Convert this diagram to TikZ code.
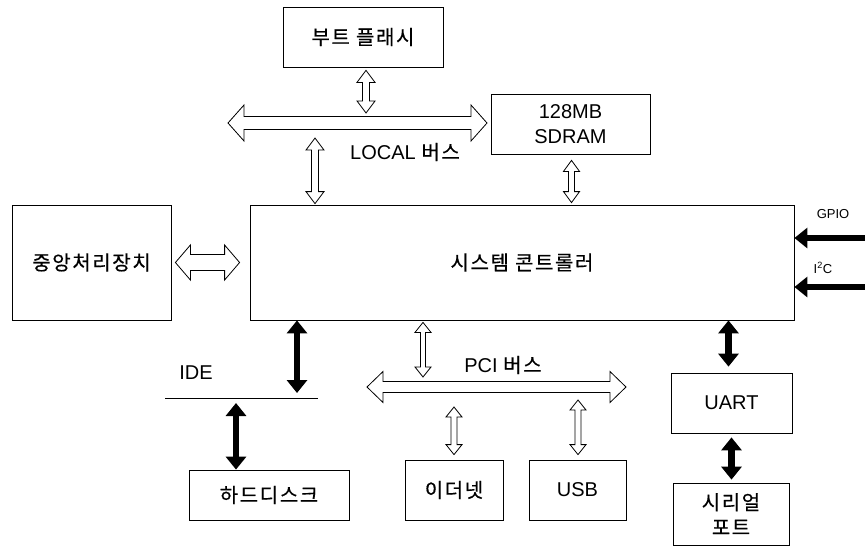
\documentclass[tikz,border=0pt]{standalone}
\usepackage{fontspec}
\setmainfont{Liberation Sans}
\newfontfamily\kr{Noto Sans CJK KR}[LetterSpace=8,FakeBold=0.5]
\usetikzlibrary{arrows.meta,calc}
\begin{document}
\begin{tikzpicture}[x=1pt,y=-1pt,
  box/.style={draw, line width=0.8pt, inner sep=0pt, align=center},
  kor/.style={font=\kr\fontsize{20}{25}\selectfont},
  lat/.style={font=\fontsize{20}{25}\selectfont},
  blackboth/.style={line width=6.5pt, {Triangle[length=13pt,width=20pt]}-{Triangle[length=13pt,width=20pt]}},
  blackin/.style={line width=6.5pt, -{Triangle[length=13pt,width=20pt]}},
  vhollow/.style n args={3}{line width=0.8pt, line join=miter, to path={let \p1=(\tikztostart), \p2=(\tikztotarget) in
     (\x1,\y1) -- ({\x1+#1},{\y1-#3}) -- ({\x1+#2},{\y1-#3}) -- ({\x1+#2},{\y2+#3}) -- ({\x1+#1},{\y2+#3}) -- (\x1,\y2)
     -- ({\x1-#1},{\y2+#3}) -- ({\x1-#2},{\y2+#3}) -- ({\x1-#2},{\y1-#3}) -- ({\x1-#1},{\y1-#3}) -- cycle}},
  hhollow/.style n args={3}{line width=0.8pt, line join=miter, to path={let \p1=(\tikztostart), \p2=(\tikztotarget) in
     (\x1,\y1) -- ({\x1+#3},{\y1+#1}) -- ({\x1+#3},{\y1+#2}) -- ({\x2-#3},{\y1+#2}) -- ({\x2-#3},{\y1+#1}) -- (\x2,\y1)
     -- ({\x2-#3},{\y1-#1}) -- ({\x2-#3},{\y1-#2}) -- ({\x1+#3},{\y1-#2}) -- ({\x1+#3},{\y1-#1}) -- cycle}},
]
\useasboundingbox (0,0) rectangle (865,547);

% boxes
\node[box, minimum width=160pt, minimum height=60pt, kor] (boot) at (363,37) {부트 플래시};
\node[box, minimum width=159pt, minimum height=60pt, lat] (sdram) at (570.5,124) {128MB\\SDRAM};
\node[box, minimum width=544pt, minimum height=115pt, kor] (ctrl) at (522,262.5) {시스템 콘트롤러};
\node[box, minimum width=159pt, minimum height=115pt, kor] (cpu) at (91.5,262.5) {중앙처리장치};
\node[box, minimum width=160pt, minimum height=50pt, kor] (hdd) at (269,495) {하드디스크};
\node[box, minimum width=98pt, minimum height=60pt, kor] (eth) at (454,490) {이더넷};
\node[box, minimum width=97pt, minimum height=60pt, lat] (usb) at (577.5,490) {USB};
\node[box, minimum width=121pt, minimum height=60pt, lat] (uart) at (731.5,403) {UART};
\node[box, minimum width=116pt, minimum height=62pt, kor] (serial) at (731,514) {시리얼\\포트};

% labels
\node[lat] (locallbl) at (405,152) {LOCAL {\kr\fontsize{20}{25}\selectfont 버스}};
\node[lat] (pcilbl) at (503,365) {PCI {\kr\fontsize{20}{25}\selectfont 버스}};
\node[lat] (idelbl) at (196,373) {IDE};
\node[font=\fontsize{13}{15}\selectfont] (gpiolbl) at (833,214) {GPIO};
\node[font=\fontsize{13}{15}\selectfont] (i2clbl) at (823,268) {I\textsuperscript{2}C};

% bus coordinates
\coordinate (lbL) at (228,123); \coordinate (lbR) at (487,123);
\coordinate (lbA) at (315,123);
\coordinate (pbL) at (367,387); \coordinate (pbR) at (626,387);
\coordinate (pbA) at (423,387); \coordinate (pbB) at (454,387); \coordinate (pbC) at (578,387);
\coordinate (ideL) at (165,398); \coordinate (ideR) at (318,398);
\coordinate (ideA) at (297,398); \coordinate (ideB) at (236,398);
\coordinate (gpioR) at (865,238); \coordinate (i2cR) at (865,287);

% LOCAL bus and its connectors
\draw[hhollow={18pt}{6.5pt}{16pt}] (lbL) to (lbR);
\draw[vhollow={9pt}{3.5pt}{12pt}] ($(boot.south)+(3pt,-3pt)$) to ($(boot.south |- lbL)+(3pt,10pt)$);
\draw[vhollow={9pt}{3.5pt}{12pt}] ($(lbA)+(0pt,-15pt)$) to ($(lbA |- ctrl.north)+(0pt,1pt)$);
\draw[vhollow={8pt}{3pt}{11pt}] ($(sdram.south)+(1pt,-6pt)$) to ($(sdram.south |- ctrl.north)+(1pt,2pt)$);

% CPU - controller
\draw[hhollow={17.5pt}{8pt}{15pt}] ($(cpu.east)+(4pt,0pt)$) to ($(ctrl.west)+(-10pt,0pt)$);

% PCI bus and its connectors
\draw[hhollow={15.5pt}{5.5pt}{16pt}] (pbL) to (pbR);
\draw[vhollow={8pt}{2.5pt}{10pt}] ($(pbA |- ctrl.south)+(0pt,-2pt)$) to ($(pbA)+(0pt,10pt)$);
\draw[vhollow={8pt}{3pt}{10pt}] ($(pbB)+(0pt,-20pt)$) to ($(eth.north)+(0pt,5pt)$);
\draw[vhollow={8pt}{3pt}{10pt}] ($(pbC)+(0pt,-13pt)$) to ($(pbC |- usb.north)+(0pt,5pt)$);

% IDE
\draw[line width=0.8pt] (ideL) -- (ideR);
\draw[blackboth] (ideA |- ctrl.south) -- ($(ideA)+(0pt,5pt)$);
\draw[blackboth] ($(ideB)+(0pt,-5pt)$) -- (ideB |- hdd.north);

% UART
\draw[blackboth] ($(uart.north |- ctrl.south)+(-3pt,0pt)$) -- ($(uart.north)+(-3pt,6pt)$);
\draw[blackboth] ($(uart.south)+(0pt,-4pt)$) -- ($(uart.south |- serial.north)+(0pt,3pt)$);

% GPIO, I2C
\draw[blackin] (gpioR) -- (gpioR -| ctrl.east);
\draw[blackin] (i2cR) -- (i2cR -| ctrl.east);
\end{tikzpicture}
\end{document}
